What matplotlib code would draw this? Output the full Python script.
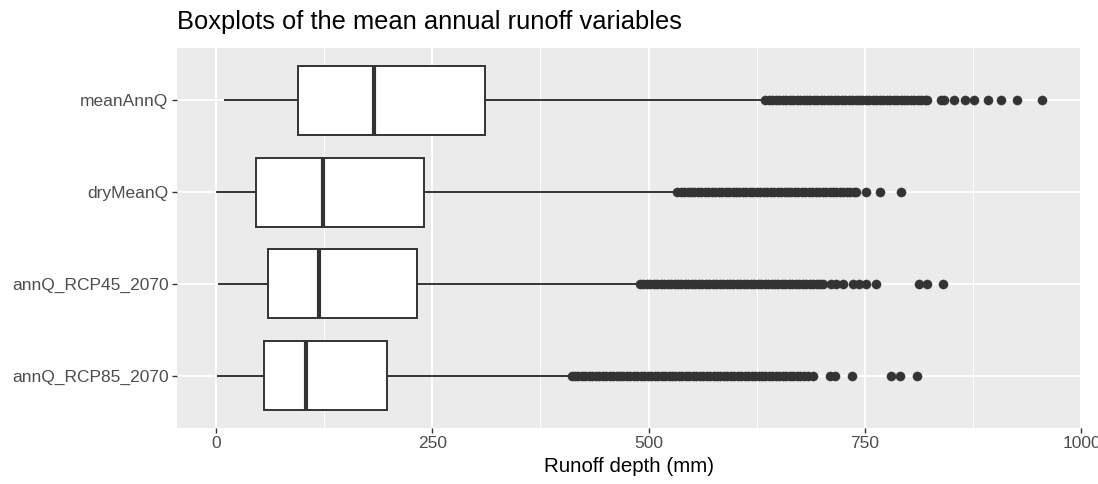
import matplotlib
matplotlib.use("Agg")
import matplotlib.pyplot as plt

plt.rcParams['font.family'] = ['Liberation Sans', 'DejaVu Sans']

# Variables, listed from bottom to top of the plot
variables = ["annQ_RCP85_2070", "annQ_RCP45_2070", "dryMeanQ", "meanAnnQ"]

# Box statistics (mm)
whisker_low = [3.0, 4.2, 1.9, 10.7]
q1 = [55.4, 60.7, 46.1, 95.3]
median = [104.2, 118.8, 123.4, 182.3]
q3 = [197.3, 232.6, 240.7, 311.0]
whisker_high = [407.0, 486.0, 529.0, 630.0]

# Outlying values (mm)
outliers_rcp85 = [411, 415, 419, 423, 427, 431, 435, 439, 443, 447, 451, 455,
                  459, 463, 467, 471, 475, 479, 483, 487, 491, 495, 499, 503,
                  507, 511, 515, 519, 523, 527, 531, 535, 539, 543, 547, 551,
                  555, 559, 563, 567, 571, 575, 579, 583, 587, 591, 595, 599,
                  603, 607, 611, 615, 619, 623, 627, 631, 635, 639, 643, 647,
                  651, 655, 659, 663, 667, 671, 675, 679, 684, 690, 709, 715,
                  735, 780, 790, 810]
outliers_rcp45 = [490, 494, 498, 502, 506, 510, 514, 518, 522, 526, 530, 534,
                  538, 542, 546, 550, 554, 558, 562, 566, 570, 574, 578, 582,
                  586, 590, 594, 598, 602, 606, 610, 614, 618, 622, 626, 630,
                  634, 638, 642, 646, 650, 654, 658, 662, 666, 670, 674, 678,
                  682, 686, 690, 694, 698, 701, 711, 716, 724, 736, 743, 751,
                  763, 812, 821, 840]
outliers_dry = [533, 537, 541, 545, 549, 553, 557, 561, 565, 569, 573, 577,
                581, 585, 589, 593, 597, 601, 605, 609, 613, 617, 621, 625,
                629, 633, 637, 641, 645, 649, 653, 657, 661, 665, 669, 673,
                677, 681, 685, 689, 693, 697, 701, 705, 709, 713, 717, 721,
                725, 729, 733, 737, 740, 751, 767, 792]
outliers_mean = [635, 639, 643, 647, 651, 655, 659, 663, 667, 671, 675, 679,
                 683, 687, 691, 695, 699, 703, 707, 711, 715, 719, 723, 727,
                 731, 735, 739, 743, 747, 751, 755, 759, 763, 767, 771, 775,
                 779, 783, 787, 791, 795, 799, 803, 807, 811, 815, 819, 822,
                 838, 841, 853, 866, 876, 892, 907, 925, 954]
outliers = [outliers_rcp85, outliers_rcp45, outliers_dry, outliers_mean]

x_ticks = [0, 250, 500, 750, 1000]
x_minor = [125, 375, 625, 875]

stats = []
for i, name in enumerate(variables):
    stats.append(dict(label=name, whislo=whisker_low[i], q1=q1[i], med=median[i],
                      q3=q3[i], whishi=whisker_high[i], fliers=outliers[i]))

dark = "#333333"
fig = plt.figure(figsize=(10.98, 4.84), dpi=100)
ax = fig.add_axes([177 / 1098, 1 - 428 / 484, (1082 - 177) / 1098, (428 - 48) / 484])
ax.set_facecolor("#EBEBEB")

positions = list(range(1, len(variables) + 1))
common = dict(
    positions=positions, widths=0.75, patch_artist=True, showcaps=False,
    boxprops=dict(facecolor="white", edgecolor=dark, linewidth=1.4),
    medianprops=dict(color=dark, linewidth=3.0, solid_capstyle="butt"),
    whiskerprops=dict(color=dark, linewidth=1.4),
    flierprops=dict(marker="o", markerfacecolor=dark, markeredgecolor=dark,
                    markersize=6.6, markeredgewidth=0.3, linestyle="none"),
    zorder=3,
)
try:
    ax.bxp(stats, orientation="horizontal", **common)
except TypeError:
    ax.bxp(stats, vert=False, **common)

ax.set_xlim(-44.7, 1000.6)
ax.set_ylim(0.43, 4.57)
ax.set_xticks(x_ticks)
ax.set_xticklabels([str(t) for t in x_ticks])
ax.set_xticks(x_minor, minor=True)
ax.set_yticks(positions)
ax.set_yticklabels(variables)

ax.set_axisbelow(True)
ax.grid(True, which="major", color="white", linewidth=1.4)
ax.grid(True, which="minor", axis="x", color="white", linewidth=0.7)
for s in ax.spines.values():
    s.set_visible(False)

ax.tick_params(axis="both", which="major", colors=dark, length=3.6, width=1.0,
               labelsize=12.5, labelcolor="#4D4D4D")
ax.tick_params(axis="x", which="major", pad=2.5)
ax.tick_params(axis="y", which="major", pad=2.5)
ax.tick_params(axis="x", which="minor", length=0)

ax.set_xlabel("Runoff depth (mm)", fontsize=14.8, color="black", labelpad=4)
fig.text(177 / 1098, 1 - 29 / 484, "Boxplots of the mean annual runoff variables",
         fontsize=18.4, color="black", ha="left", va="baseline")

fig.savefig("out.png", dpi=100)
